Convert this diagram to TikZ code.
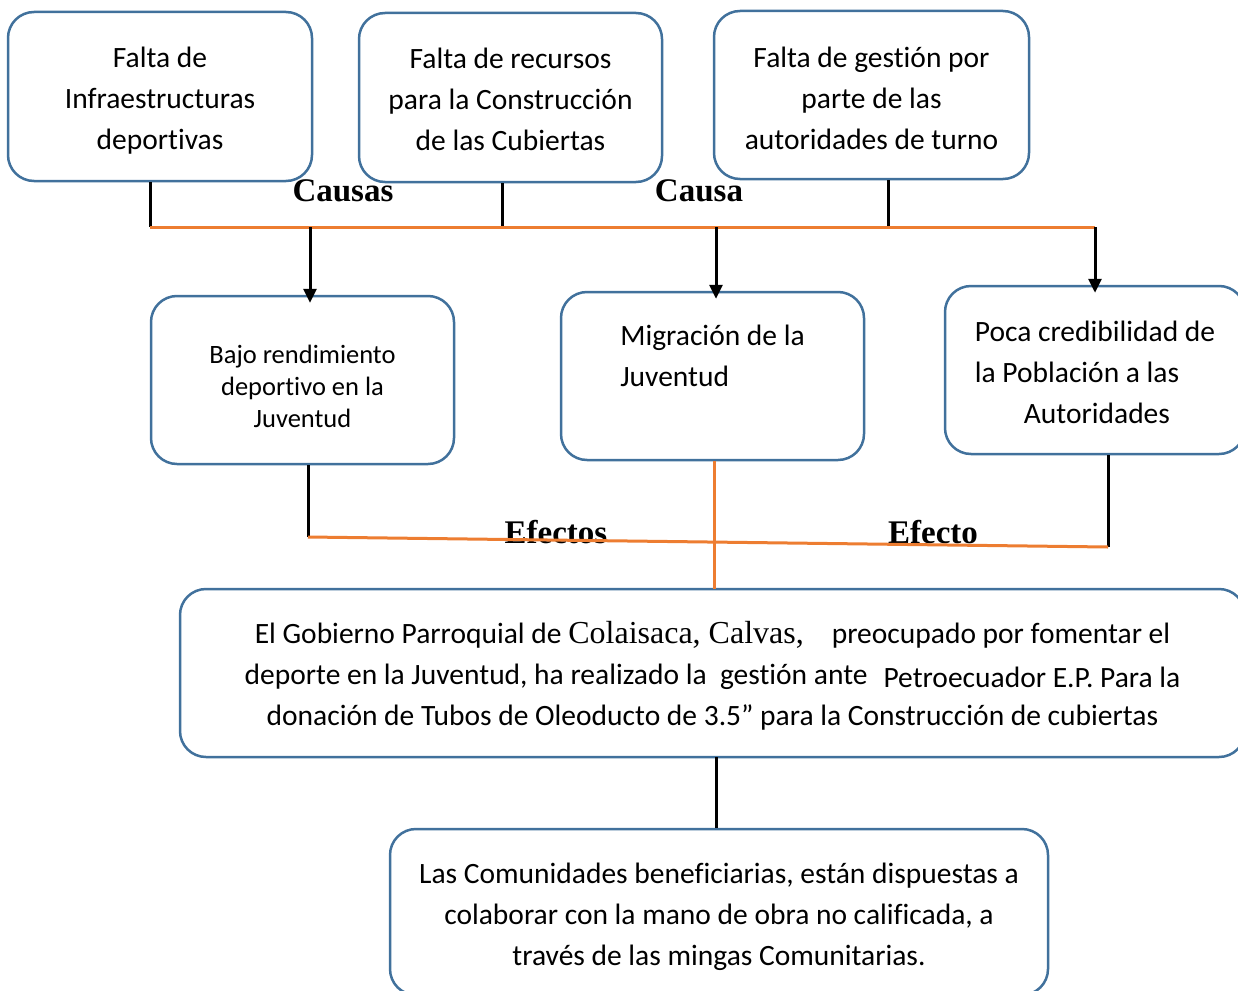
\documentclass[tikz,border=0pt]{standalone}
\usepackage{fontspec}
\setmainfont{Carlito}[Ligatures=CommonOff]
\newfontfamily\cambria{Liberation Serif}
\usetikzlibrary{arrows.meta}
\definecolor{boxblue}{RGB}{65,113,156}
\definecolor{linkorange}{RGB}{237,125,49}
\newcommand\alto[1]{\rule{0pt}{#1}}
\tikzset{
  caja/.style={draw=boxblue,line width=2.5pt,rounded corners=26pt,align=center,
    inner sep=0pt,font=\fontsize{29.5}{41}\selectfont},
  enlace/.style={line width=3pt},
  barra/.style={draw=linkorange,line width=3pt},
  flecha/.style={enlace,-{Triangle[length=14pt,width=13pt]},shorten >=-8pt},
  rotulo/.style={anchor=base,font=\cambria\bfseries\fontsize{33}{35}\selectfont}
}
\begin{document}
\begin{tikzpicture}[x=1pt,y=-1pt]
\useasboundingbox (0,0) rectangle (1238,990);
% causas
\node[caja,minimum width=304pt,minimum height=169pt] (falta1) at (160,96.5)
  {\alto{28pt}Falta de\\Infraestructuras\\deportivas};
\node[caja,minimum width=303pt,minimum height=169pt] (falta2) at (510.5,97.5)
  {\alto{25pt}Falta de recursos\\para la Construcción\\de las Cubiertas};
\node[caja,minimum width=315pt,minimum height=168pt] (falta3) at (871.5,95)
  {\alto{28pt}Falta de gestión por\\parte de las\\autoridades de turno};
% efectos
\node[caja,minimum width=303pt,minimum height=168pt,font=\fontsize{26.5}{32}\selectfont]
  (bajo) at (302.5,380) {\alto{31pt}Bajo rendimiento\\deportivo en la\\Juventud};
\node[caja,minimum width=303pt,minimum height=168pt,align=left] (migra) at (712.5,376)
  {Migración de la\\Juventud\\\mbox{}};
\node[caja,minimum width=300pt,minimum height=168pt,align=left] (poca) at (1095,370)
  {\alto{25pt}Poca credibilidad de\\la Población a las\\\hspace*{49pt}Autoridades};
\node[caja,minimum width=1065pt,minimum height=168pt] (gobierno) at (712.5,673)
  {\alto{28pt}El Gobierno Parroquial de {\cambria\fontsize{32}{41}\selectfont Colaisaca, Calvas,}\hspace{28pt}preocupado por fomentar el\\
   deporte en la Juventud, ha realizado la\ \ gestión ante\hspace{16pt}\raisebox{-3pt}{Petroecuador E.P. Para la}\\
   donación de Tubos de Oleoducto de 3.5” para la Construcción de cubiertas};
\node[caja,minimum width=658pt,minimum height=166pt] (comun) at (719,912)
  {\alto{31pt}Las Comunidades beneficiarias, están dispuestas a\\colaborar con la mano de obra no calificada, a\\través de las mingas Comunitarias.};
% rotulos
\node[rotulo] (causas) at (343,201) {Causas};
\node[rotulo] (causa) at (699,201) {Causa};
\node[rotulo] (efectos) at (556,543) {Efectos};
\node[rotulo] (efecto) at (933,543) {Efecto};
% lineas de causas
\coordinate (h1) at (150,227);
\coordinate (h2) at (502,227);
\coordinate (h3) at (888,227);
\coordinate (hA) at (310,227);
\coordinate (hB) at (716,227);
\coordinate (hC) at (1095,227);
\draw[enlace] (falta1.south -| h1) -- (h1);
\draw[enlace] (falta2.south -| h2) -- (h2);
\draw[enlace] (falta3.south -| h3) -- (h3);
\draw[barra] (h1) -- (hC);
\draw[flecha] (hA) -- (bajo.north -| hA);
\draw[flecha] (hB) -- (migra.north -| hB);
\draw[flecha] (hC) -- (poca.north -| hC);
% lineas de efectos
\coordinate (e1) at (308,537);
\coordinate (e2) at (1108,547);
\coordinate (m1) at (714,589);
\coordinate (g1) at (716,757);
\draw[enlace] (bajo.south -| e1) -- (e1);
\draw[enlace] (poca.south -| e2) -- (e2);
\draw[barra] (e1) -- (e2);
\draw[barra] (migra.south -| m1) -- (m1);
\draw[enlace] (g1) -- (comun.north -| g1);
\end{tikzpicture}
\end{document}
